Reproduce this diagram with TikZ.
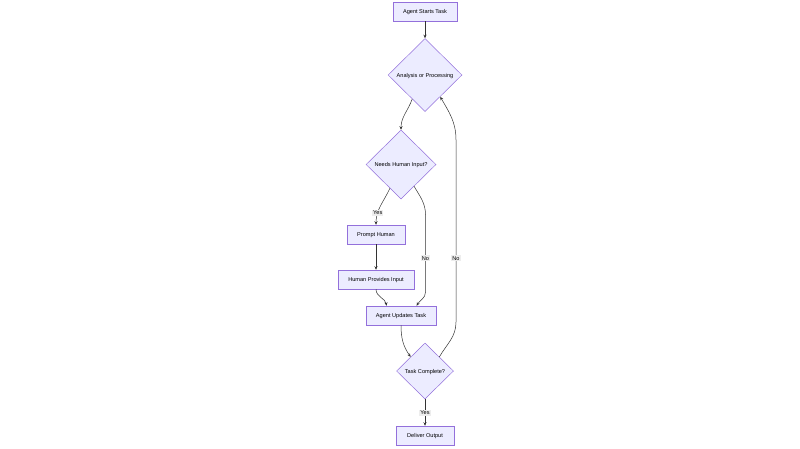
\documentclass[tikz,border=0pt]{standalone}
\usepackage{fontspec}
\setmainfont{Liberation Sans}
\usetikzlibrary{shapes.geometric,arrows.meta}
\definecolor{boxfill}{HTML}{ECECFF}
\definecolor{boxline}{HTML}{9370DB}
\definecolor{edgeline}{HTML}{333333}
\definecolor{lblfill}{HTML}{EDEDED}

\begin{document}
\begin{tikzpicture}[x=1pt, y=-1pt, font=\fontsize{5.6}{7}\selectfont,
    >={Stealth[length=3.5pt,width=3pt]},
    box/.style={rectangle, draw=boxline, fill=boxfill, line width=0.5pt, inner sep=0pt, minimum height=19pt, text height=4pt, text depth=0pt},
    test/.style={diamond, draw=boxline, fill=boxfill, line width=0.5pt, inner sep=0pt, text height=4pt, text depth=0pt},
    lbl/.style={fill=lblfill, inner sep=1pt, text height=4pt, text depth=0pt},
    link/.style={draw=edgeline, line width=0.5pt}]
    \fill[white] (0,0) rectangle (800,448);
    \useasboundingbox (0,0) rectangle (800,448);

    \node[box, minimum width=64pt] (n1) at (425,11.5) {Agent Starts Task};
    \node[test, minimum width=74pt, minimum height=73pt] (n2) at (425,75) {Analysis or Processing};
    \node[test, minimum width=70pt, minimum height=69pt] (n3) at (401,164.5) {Needs Human Input?};
    \node[box, minimum width=58pt] (n4) at (376,234.5) {Prompt Human};
    \node[box, minimum width=76pt] (n5) at (376,279.5) {Human Provides Input};
    \node[box, minimum width=70pt] (n6) at (401,315.5) {Agent Updates Task};
    \node[test, minimum width=57pt, minimum height=56pt] (n7) at (425,371) {Task Complete?};
    \node[box, minimum width=58pt] (n8) at (425,435.5) {Deliver Output};

    \draw[link,->] (n1) -- (n2);
    \draw[link,->] (n2.-118) to[out=-110,in=90] (n3);
    \draw[link,->] (n3.-115) to[out=-115,in=90] node[lbl,pos=0.7] {Yes} (n4);
    \draw[link,->] (n3.-59) to[out=-60,in=90] (425.5,215) -- node[lbl,pos=0.56] {No} (425.5,292) to[out=-90,in=60] (n6.32);
    \draw[link,->] (n4) -- (n5);
    \draw[link,->] (n5.south) to[out=-90,in=100] (n6.146);
    \draw[link,->] (n6.south) to[out=-90,in=125] (n7.north west);
    \draw[link,->] (n7.north east) to[out=60,in=-90] (456,322) -- node[lbl,pos=0.35] {No} (456,140) to[out=90,in=-60] (n2.-55);
    \draw[link,->] (n7) -- node[lbl] {Yes} (n8);
\end{tikzpicture}
\end{document}
